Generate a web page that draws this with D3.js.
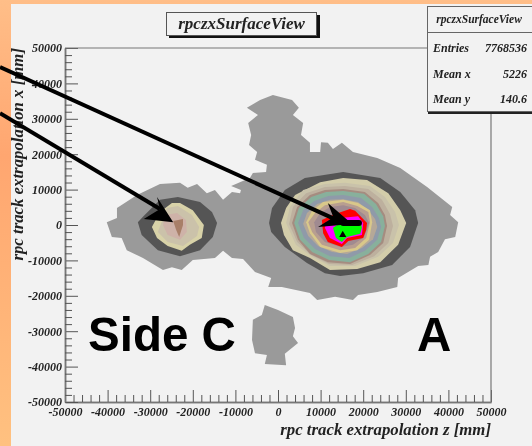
<!DOCTYPE html>
<html><head><meta charset="utf-8">
<script src="https://cdn.jsdelivr.net/npm/d3@7"></script>
<style>
html,body{margin:0;padding:0;background:#f2f2f2;overflow:hidden}
svg{display:block;filter:blur(0.45px)}
text{font-family:"Liberation Serif",serif;font-weight:bold;font-style:italic;fill:#222}
</style></head><body>
<script>
const titleText="rpczxSurfaceView", xTitle="rpc track extrapolation z [mm]", yTitle="rpc track extrapolation x [mm]";
const statsLabels=["Entries","Mean x","Mean y"], statsValues=["7768536","5226","140.6"];
const xTicks=[-50000,-40000,-30000,-20000,-10000,0,10000,20000,30000,40000,50000];
const yTicks=xTicks;
const sideLabels=[{t:"Side C",z:-44600,x:-35500},{t:"A",z:32600,x:-35500}];

const outerMain=[[-12900,7100],[-10800,9300],[-8900,9000],[-8700,9900],[-11000,11000],[-6600,13300],[-5900,14700],[-2800,15000],[-2600,17000],[-5400,18400],[-4900,20600],[-6800,22600],[-6300,25400],[-7000,28800],[-4700,31100],[-7300,33100],[-4200,35300],[-1200,36700],[3300,35300],[4900,33100],[3500,31100],[5900,28800],[5400,25400],[7500,23200],[7500,20600],[9900,20600],[10100,23400],[11700,23200],[12900,21500],[15000,23200],[17600,20600],[23300,18900],[28700,16100],[35000,10700],[40900,5100],[40400,2800],[42300,800],[41600,-3400],[39200,-4000],[37600,-7600],[35700,-9000],[35300,-11300],[32900,-11600],[28200,-15000],[28000,-17500],[23300,-18900],[18800,-19800],[17600,-21200],[13400,-20300],[9200,-21200],[7500,-19200],[900,-17500],[-2300,-17500],[-1600,-15000],[-5400,-13300],[-8200,-9600],[-10800,-9300],[-12900,-7300],[-14800,-9300],[-20000,-9900],[-22600,-12700],[-24900,-11900],[-27000,-12700],[-31700,-9300],[-35500,-7100],[-36700,-3700],[-39000,-3400],[-40200,800],[-37800,2000],[-37800,4800],[-33100,8500],[-27700,11600],[-23000,11900],[-21200,10500],[-19000,11600],[-16700,9000],[-14800,9900]];
const outerIsland=[[-3100,-22600],[0,-24000],[3500,-26000],[4000,-29100],[3500,-31400],[4700,-33300],[1600,-36400],[1900,-39600],[-3100,-39300],[-2600,-36700],[-5400,-36200],[-6100,-32500],[-5900,-26800],[-3800,-25400]];

const ringsSideA=[
 ["#555555",[[-2100,600],[-1400,4800],[1600,9900],[6300,13300],[15300,15000],[24000,13300],[28700,9300],[32200,4200],[32900,600],[31000,-6200],[26800,-11300],[20000,-13600],[14600,-14400],[11000,-13600],[6800,-10700],[1600,-6200],[-1600,-2000]]],
 ["#d3cdaa",[[700,600],[1900,4800],[4000,8500],[9900,12100],[15300,13300],[20900,12700],[25900,9000],[28700,4200],[30100,600],[28200,-5600],[24000,-10500],[18600,-12400],[12200,-12700],[7500,-9300],[3500,-7100],[1400,-2800]]],
 ["#c9c2aa",[[1900,600],[2800,5100],[5900,9900],[11000,11600],[15700,11900],[21600,11000],[25100,7900],[27500,3700],[28400,0],[27000,-5100],[23500,-9000],[18100,-11600],[12200,-11600],[8000,-9000],[4200,-5600]]],
 ["#bdb09e",[[2600,300],[3500,5100],[6600,9000],[11000,10700],[15700,11000],[21200,10200],[24400,7100],[26300,3100],[27000,-300],[25900,-5100],[22600,-8800],[17400,-11300],[12000,-11000],[7800,-8500],[4500,-4800]]],
 ["#a58c80",[[3300,600],[4500,5100],[7500,8500],[11000,9900],[15300,10200],[20400,9300],[23500,6200],[25100,2800],[25600,-300],[24700,-5100],[21600,-8500],[16900,-11000],[11700,-10500],[7500,-8200],[4700,-4200]]],
 ["#88b09c",[[3800,600],[4900,4800],[7800,7900],[11300,9300],[15300,9600],[20200,8800],[23000,5900],[24700,2500],[25100,-300],[24200,-4800],[21200,-8200],[16900,-10500],[12000,-9900],[8000,-7600],[5200,-4200]]],
 ["#8f9aa9",[[4700,600],[5900,4200],[8500,6800],[11800,8200],[15300,8500],[19500,7600],[22100,5100],[23700,2000],[24200,-600],[23300,-4200],[20400,-7300],[16700,-9300],[12200,-8800],[8700,-6800],[6100,-3700]]],
 ["#b5a898",[[5900,300],[6800,3400],[9200,5900],[12200,7100],[15300,7300],[18800,6500],[21200,4200],[22800,1700],[23300,-600],[22300,-4000],[19700,-6500],[16200,-8200],[12700,-7600],[9400,-5900],[7100,-3100]]],
 ["#d9c88a",[[6600,800],[8000,4000],[10600,6500],[15300,7100],[18800,6200],[21600,4200],[22100,800],[21400,-4200],[18600,-7100],[14600,-7900],[9900,-6200],[7500,-2300]]],
 ["#b89e90",[[7100,800],[8700,3400],[11000,5600],[15300,6500],[18600,5400],[21200,3700],[21600,800],[20700,-3700],[18100,-6500],[14600,-7100],[10300,-5600],[8000,-2000]]],
 ["#a08a90",[[8500,800],[9900,3400],[12200,5100],[15300,5600],[18100,4800],[20400,2800],[21400,600],[20200,-3400],[17600,-5600],[14600,-6200],[11000,-4800],[8900,-2000]]],
 ["#ff0000",[[10300,1400],[13400,3100],[16900,4500],[18100,4000],[20900,600],[20700,-1400],[20000,-3700],[16500,-4500],[15000,-6200],[11700,-4800],[10600,-2300]]],
 ["#ff00ff",[[11000,-800],[11500,1100],[14600,2000],[18800,2500],[20000,600],[19700,-2800],[16200,-3700],[15000,-5400],[12200,-3700]]],
 ["#00ff00",[[12900,-800],[15700,1400],[19300,1400],[19700,-800],[19300,-2500],[16200,-3400],[15000,-4800],[13600,-3700]]]
];
const ringsSideC=[
 ["#555555",[[-32900,800],[-31300,2800],[-27700,7100],[-23500,7900],[-18300,6500],[-15500,3700],[-14300,600],[-15300,-3400],[-18300,-7100],[-23000,-8800],[-28200,-7100],[-32000,-2800]]],
 ["#d8d2a8",[[-29600,-600],[-27700,3700],[-24900,6200],[-23000,6200],[-20000,4200],[-17400,0],[-17900,-3700],[-20700,-5600],[-22600,-7300],[-25900,-5900],[-28400,-3700]]],
 ["#cbc2aa",[[-28200,-2000],[-26100,4800],[-23500,5400],[-20200,2800],[-18500,-600],[-19000,-3100],[-22300,-5900],[-25900,-4800]]],
 ["#ceb2a8",[[-27000,0],[-26500,2800],[-23700,3400],[-21600,1400],[-21400,-2000],[-23000,-4200],[-25900,-2800]]],
 ["#a87f68",[[-24600,1100],[-22300,1700],[-22300,0],[-23200,-3400],[-23900,-1400]]]
];
const peakMarker=[15200,-2800];
const arrowA={line:[[-65250,44640],[15300,600]],bar:[[15300,600],[19000,600]],head:[[17400,300],[11700,6200],[13000,2200],[9400,-600]]};
const arrowC={line:[[-65250,31600],[-27700,4500]],head:[[-24600,800],[-28400,7900],[-27700,4500],[-31500,1700]]};

const W=532,H=446;
const xS=d3.scaleLinear().domain([-50000,50000]).range([65,491]);
const yS=d3.scaleLinear().domain([-50000,50000]).range([402,48]);
const svg=d3.select("body").append("svg").attr("width",W).attr("height",H);
const defs=svg.append("defs");
const g=defs.append("linearGradient").attr("id","bg").attr("x1",0).attr("y1",0).attr("x2",0).attr("y2",1);
[[0,"#ffbe88"],[0.35,"#ffa670"],[1,"#ffc180"]].forEach(d=>g.append("stop").attr("offset",d[0]).attr("stop-color",d[1]));
svg.append("rect").attr("width",W).attr("height",H).attr("fill","url(#bg)");
svg.append("rect").attr("x",11).attr("y",4).attr("width",W).attr("height",H).attr("fill","#f2f2f2");

const line=d3.line().x(d=>xS(d[0])).y(d=>yS(d[1])).curve(d3.curveLinearClosed);
const open=d3.line().x(d=>xS(d[0])).y(d=>yS(d[1]));
const gray="#9a9a9a";
svg.selectAll(".outer").data([outerMain,outerIsland]).join("path").attr("d",line).attr("fill",gray);
svg.selectAll(".ring").data(ringsSideA.concat(ringsSideC)).join("path").attr("d",d=>line(d[1])).attr("fill",d=>d[0]);
svg.append("path").attr("transform",`translate(${xS(peakMarker[0])},${yS(peakMarker[1])})`).attr("d",d3.symbol(d3.symbolTriangle,22)).attr("fill","#000");

// axes
function minors(){const m=[];for(let i=0;i<xTicks.length-1;i++)for(let k=1;k<5;k++)m.push(xTicks[i]+(xTicks[i+1]-xTicks[i])*k/5);return m;}
const fmt=d=>String(d);
const ax=svg.append("g").attr("transform","translate(0,402)").call(d3.axisBottom(xS).tickValues(xTicks).tickFormat(fmt).tickSizeInner(-12).tickSizeOuter(0).tickPadding(5));
const axm=svg.append("g").attr("transform","translate(0,402)").call(d3.axisBottom(xS).tickValues(minors()).tickFormat("").tickSizeInner(-7).tickSizeOuter(0));
const ay=svg.append("g").attr("transform","translate(65,0)").call(d3.axisLeft(yS).tickValues(yTicks).tickFormat(fmt).tickSizeInner(-13).tickSizeOuter(0).tickPadding(3));
const aym=svg.append("g").attr("transform","translate(65,0)").call(d3.axisLeft(yS).tickValues(minors()).tickFormat("").tickSizeInner(-7).tickSizeOuter(0));
[ax,axm,ay,aym].forEach(a=>{a.selectAll("path.domain").attr("stroke","#777").attr("stroke-width",1.5);a.selectAll("line").attr("stroke","#555");});
[ax,ay].forEach(a=>a.selectAll("text").attr("font-size",12).attr("font-family","Liberation Serif").attr("fill","#333"));
svg.append("line").attr("x1",65).attr("x2",427).attr("y1",48).attr("y2",48).attr("stroke","#777").attr("stroke-width",1.2);
svg.append("line").attr("x1",491).attr("x2",491).attr("y1",112).attr("y2",402).attr("stroke","#777").attr("stroke-width",1.2);

svg.append("text").attr("x",491).attr("y",435).attr("text-anchor","end").attr("font-size",16.8).text(xTitle);
svg.append("text").attr("transform","translate(23,48) rotate(-90)").attr("text-anchor","end").attr("font-size",16.8).text(yTitle);

// title box
svg.append("rect").attr("x",169).attr("y",15).attr("width",151).attr("height",23).attr("fill","#111");
svg.append("rect").attr("x",166.5).attr("y",12.5).attr("width",150).attr("height",23).attr("fill","#f2f2f2").attr("stroke","#555");
svg.append("text").attr("x",241.5).attr("y",29).attr("text-anchor","middle").attr("font-size",17).attr("fill","#111").text(titleText);

// stats box
svg.append("rect").attr("x",428).attr("y",8).attr("width",110).attr("height",106).attr("fill","#222");
svg.append("rect").attr("x",427.5).attr("y",6.5).attr("width",110).attr("height",105).attr("fill","#f2f2f2").attr("stroke","#666");
svg.append("line").attr("x1",427).attr("x2",532).attr("y1",32.5).attr("y2",32.5).attr("stroke","#666");
svg.append("text").attr("x",479).attr("y",23).attr("text-anchor","middle").attr("font-size",11.5).text(titleText);
const rowY=[52,78,103];
statsLabels.forEach((l,i)=>{
 svg.append("text").attr("x",433).attr("y",rowY[i]).attr("font-size",12).attr("fill","#111").text(l);
 svg.append("text").attr("x",527).attr("y",rowY[i]).attr("text-anchor","end").attr("font-size",12).attr("fill","#333").text(statsValues[i]);
});

// arrows
[arrowA,arrowC].forEach(a=>{
 svg.append("path").attr("d",open(a.line)).attr("stroke","#000").attr("stroke-width",4).attr("fill","none");
 svg.append("path").attr("d",line(a.head)).attr("fill","#000");
 if(a.bar)svg.append("path").attr("d",open(a.bar)).attr("stroke","#000").attr("stroke-width",6).attr("stroke-linecap","round").attr("fill","none");
});
sideLabels.forEach(s=>{
 svg.append("text").attr("x",xS(s.z)).attr("y",yS(s.x)).attr("font-size",47.5).style("font-family","Liberation Sans").style("font-style","normal").style("font-weight","bold").style("fill","#000").text(s.t);
});
</script>
</body></html>
